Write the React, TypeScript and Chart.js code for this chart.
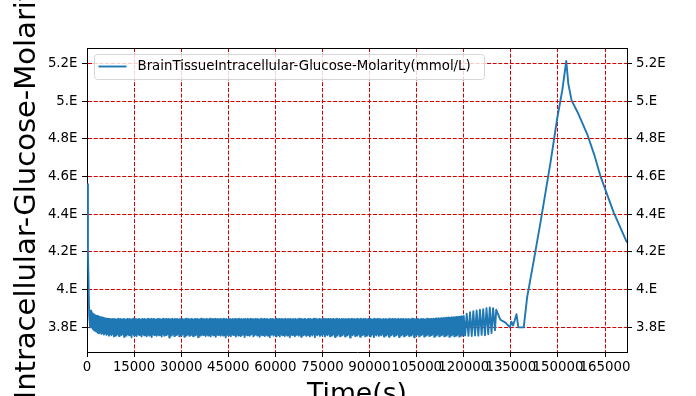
import { useEffect, useRef } from 'react';
import { Chart, registerables } from 'chart.js';

Chart.register(...registerables);

// ---------- text ----------
const seriesLabel = 'BrainTissueIntracellular-Glucose-Molarity(mmol/L)';
const xTitle = 'Time(s)';
const yTitle = 'Intracellular-Glucose-Molarity';

// ---------- axes ----------
const xMin = 0;
const xMax = 172000;
const yMin = 3.669;
const yMax = 5.283;
const xTickValues = [0, 15000, 30000, 45000, 60000, 75000, 90000, 105000, 120000, 135000, 150000, 165000];
const xTickLabels = ['0', '15000', '30000', '45000', '60000', '75000', '90000', '105000', '120000', '135000', '150000', '165000'];
const yTickValues = [3.8, 4.0, 4.2, 4.4, 4.6, 4.8, 5.0, 5.2];
const yTickLabels = ['3.8E', '4.E', '4.2E', '4.4E', '4.6E', '4.8E', '5.E', '5.2E'];

// ---------- data ----------
// initial drop
const introTimes = [0, 300, 700, 1000, 1250];
const introValues = [4.56, 4.2, 3.86, 3.8, 3.89];

// dense oscillation band, sampled every bandStepTime seconds from bandStartTime
const bandStartTime = 1600;
const bandStepTime = 200;
const bandValues = [
  3.874, 3.792, 3.870, 3.786, 3.866, 3.781, 3.863, 3.777, 3.860, 3.772, 3.858, 3.768, 3.856, 3.774, 3.854, 3.765, 3.852, 3.770, 3.850, 3.762,
  3.849, 3.768, 3.847, 3.760, 3.846, 3.766, 3.845, 3.755, 3.844, 3.764, 3.843, 3.758, 3.845, 3.766, 3.842, 3.752, 3.844, 3.762, 3.841, 3.757,
  3.843, 3.765, 3.846, 3.754, 3.842, 3.763, 3.844, 3.759, 3.841, 3.766, 3.845, 3.750, 3.843, 3.761, 3.840, 3.756, 3.844, 3.764, 3.842, 3.758,
  3.845, 3.762, 3.841, 3.747, 3.843, 3.765, 3.846, 3.757, 3.842, 3.763, 3.844, 3.754, 3.841, 3.766, 3.845, 3.759, 3.843, 3.761, 3.840, 3.752,
  3.844, 3.764, 3.842, 3.758, 3.845, 3.766, 3.841, 3.753, 3.843, 3.762, 3.846, 3.757, 3.842, 3.765, 3.844, 3.749, 3.841, 3.763, 3.845, 3.759,
  3.843, 3.766, 3.840, 3.755, 3.844, 3.761, 3.842, 3.758, 3.845, 3.764, 3.841, 3.751, 3.843, 3.766, 3.846, 3.756, 3.842, 3.762, 3.844, 3.759,
  3.841, 3.765, 3.845, 3.746, 3.843, 3.763, 3.842, 3.757, 3.846, 3.766, 3.841, 3.754, 3.844, 3.761, 3.843, 3.759, 3.845, 3.765, 3.840, 3.752,
  3.844, 3.763, 3.842, 3.758, 3.845, 3.766, 3.841, 3.750, 3.843, 3.762, 3.846, 3.757, 3.842, 3.764, 3.844, 3.755, 3.841, 3.766, 3.845, 3.760,
  3.843, 3.753, 3.840, 3.765, 3.844, 3.758, 3.842, 3.763, 3.845, 3.748, 3.841, 3.766, 3.843, 3.756, 3.846, 3.762, 3.842, 3.759, 3.844, 3.765,
  3.841, 3.754, 3.845, 3.761, 3.843, 3.757, 3.842, 3.766, 3.846, 3.752, 3.841, 3.763, 3.844, 3.758, 3.843, 3.765, 3.845, 3.750, 3.840, 3.762,
  3.844, 3.759, 3.842, 3.766, 3.845, 3.755, 3.841, 3.762, 3.843, 3.757, 3.846, 3.764, 3.842, 3.747, 3.844, 3.761, 3.841, 3.758, 3.845, 3.766,
  3.843, 3.753, 3.840, 3.763, 3.844, 3.759, 3.842, 3.765, 3.845, 3.751, 3.841, 3.762, 3.843, 3.757, 3.846, 3.766, 3.842, 3.754, 3.844, 3.760,
  3.841, 3.765, 3.845, 3.749, 3.843, 3.762, 3.842, 3.758, 3.846, 3.764, 3.841, 3.755, 3.844, 3.761, 3.843, 3.766, 3.845, 3.752, 3.840, 3.759,
  3.844, 3.763, 3.842, 3.757, 3.845, 3.765, 3.841, 3.750, 3.843, 3.761, 3.846, 3.758, 3.842, 3.766, 3.844, 3.754, 3.841, 3.762, 3.845, 3.757,
  3.843, 3.765, 3.840, 3.748, 3.844, 3.760, 3.842, 3.764, 3.845, 3.756, 3.841, 3.762, 3.843, 3.753, 3.846, 3.765, 3.842, 3.759, 3.844, 3.751,
  3.841, 3.763, 3.845, 3.758, 3.843, 3.766, 3.842, 3.754, 3.846, 3.761, 3.841, 3.757, 3.844, 3.765, 3.843, 3.747, 3.845, 3.762, 3.840, 3.759,
  3.844, 3.766, 3.842, 3.753, 3.845, 3.760, 3.841, 3.764, 3.843, 3.756, 3.846, 3.762, 3.842, 3.750, 3.844, 3.765, 3.841, 3.758, 3.845, 3.763,
  3.843, 3.755, 3.840, 3.766, 3.844, 3.759, 3.842, 3.752, 3.845, 3.763, 3.841, 3.757, 3.843, 3.765, 3.846, 3.748, 3.842, 3.761, 3.844, 3.758,
  3.841, 3.764, 3.845, 3.754, 3.843, 3.762, 3.842, 3.757, 3.846, 3.766, 3.841, 3.751, 3.844, 3.763, 3.843, 3.758, 3.845, 3.765, 3.840, 3.753,
  3.844, 3.761, 3.842, 3.757, 3.845, 3.764, 3.841, 3.749, 3.843, 3.762, 3.846, 3.756, 3.842, 3.766, 3.844, 3.753, 3.841, 3.760, 3.845, 3.758,
  3.843, 3.765, 3.840, 3.751, 3.844, 3.762, 3.842, 3.757, 3.845, 3.764, 3.841, 3.746, 3.843, 3.761, 3.846, 3.758, 3.842, 3.766, 3.844, 3.754,
  3.841, 3.762, 3.845, 3.757, 3.843, 3.765, 3.842, 3.750, 3.846, 3.761, 3.841, 3.758, 3.844, 3.764, 3.843, 3.753, 3.845, 3.762, 3.840, 3.757,
  3.844, 3.766, 3.842, 3.752, 3.845, 3.760, 3.841, 3.763, 3.843, 3.748, 3.846, 3.762, 3.842, 3.757, 3.844, 3.765, 3.841, 3.754, 3.845, 3.761,
  3.843, 3.758, 3.840, 3.765, 3.844, 3.751, 3.842, 3.762, 3.845, 3.757, 3.841, 3.764, 3.843, 3.750, 3.846, 3.761, 3.842, 3.758, 3.844, 3.766,
  3.841, 3.753, 3.845, 3.762, 3.843, 3.758, 3.842, 3.765, 3.846, 3.749, 3.841, 3.762, 3.844, 3.757, 3.843, 3.764, 3.845, 3.752, 3.840, 3.761,
  3.844, 3.758, 3.842, 3.766, 3.845, 3.754, 3.841, 3.762, 3.843, 3.757, 3.846, 3.765, 3.842, 3.747, 3.844, 3.761, 3.841, 3.758, 3.845, 3.764,
  3.843, 3.752, 3.840, 3.763, 3.844, 3.759, 3.842, 3.766, 3.845, 3.751, 3.841, 3.762, 3.843, 3.757, 3.846, 3.765, 3.842, 3.754, 3.844, 3.761,
  3.845, 3.758, 3.843, 3.766, 3.846, 3.750, 3.844, 3.762, 3.847, 3.757, 3.845, 3.765, 3.848, 3.753, 3.846, 3.761, 3.849, 3.758, 3.847, 3.764,
  3.850, 3.752, 3.848, 3.762, 3.851, 3.756, 3.849, 3.765, 3.852, 3.750, 3.850, 3.761, 3.853, 3.757, 3.851, 3.764, 3.854, 3.752, 3.852, 3.760,
  3.855, 3.756, 3.853, 3.763, 3.857, 3.751, 3.855, 3.760, 3.858, 3.755, 3.856, 3.762, 3.860,
];

// growing oscillation burst
const burstTimes = [120450, 120950, 121500, 122000, 122550, 123050, 123600, 124100, 124650, 125150, 125700, 126200, 126750, 127250, 127800, 128300, 128850, 129350, 129950, 130350];
const burstValues = [3.757, 3.872, 3.755, 3.880, 3.754, 3.886, 3.757, 3.889, 3.756, 3.893, 3.760, 3.896, 3.758, 3.901, 3.763, 3.905, 3.770, 3.902, 3.785, 3.893];

// settling wiggles before the rise
const tailTimes = [131700, 133300, 134700, 135200, 135700, 136200, 136800, 137400, 139100];
const tailValues = [3.840, 3.825, 3.800, 3.830, 3.810, 3.835, 3.870, 3.800, 3.800];

// rise, peak and decline
const peakTimes = [140200, 142200, 144450, 147640, 149780, 151380, 152660, 153300, 154350, 156260, 159450, 161690, 163600, 167750, 172000];
const peakValues = [3.960, 4.145, 4.357, 4.676, 4.910, 5.058, 5.214, 5.094, 5.005, 4.942, 4.820, 4.710, 4.600, 4.410, 4.250];

// ---------- styles ----------
const FONT = '"DejaVu Sans", "Liberation Sans", sans-serif';
const TICK_SIZE = 13.33;
const LINE_COLOR = '#1f77b4';
const GRID_COLOR = '#d40000';
const GRID_DASH = [4, 1.7];
const Y_TITLE_SHIFT = -14;

function buildPoints() {
  const pts: { x: number; y: number }[] = [];
  introTimes.forEach((t, i) => pts.push({ x: t, y: introValues[i] }));
  bandValues.forEach((v, i) => pts.push({ x: bandStartTime + i * bandStepTime, y: v }));
  burstTimes.forEach((t, i) => pts.push({ x: t, y: burstValues[i] }));
  tailTimes.forEach((t, i) => pts.push({ x: t, y: tailValues[i] }));
  peakTimes.forEach((t, i) => pts.push({ x: t, y: peakValues[i] }));
  return pts;
}

const frameLegendPlugin = {
  id: 'frameLegend',
  afterDatasetsDraw(chart: any) {
    const { ctx, chartArea: a } = chart;
    const ds = chart.data.datasets[0];
    ctx.save();
    // legend box
    ctx.font = `${TICK_SIZE}px ${FONT}`;
    const textX = a.left + 50.5;
    const midY = a.top + 18.5;
    const tw = ctx.measureText(ds.label).width;
    const bx = Math.round(a.left + 7) + 0.5;
    const by = Math.round(a.top + 6) + 0.5;
    const bw = Math.round(textX + tw + 13.5 - bx);
    const bh = 25;
    ctx.beginPath();
    if (ctx.roundRect) ctx.roundRect(bx, by, bw, bh, 3);
    else ctx.rect(bx, by, bw, bh);
    ctx.fillStyle = 'rgba(255,255,255,0.8)';
    ctx.fill();
    ctx.strokeStyle = '#d6d6d6';
    ctx.lineWidth = 1;
    ctx.stroke();
    // handle
    ctx.beginPath();
    ctx.moveTo(a.left + 11.5, midY);
    ctx.lineTo(a.left + 39.5, midY);
    ctx.strokeStyle = ds.borderColor;
    ctx.lineWidth = ds.borderWidth;
    ctx.stroke();
    // text
    ctx.fillStyle = '#000';
    ctx.textBaseline = 'middle';
    ctx.textAlign = 'left';
    ctx.fillText(ds.label, textX, midY);
    // top spine
    ctx.beginPath();
    const ty = Math.round(a.top) + 0.5;
    ctx.moveTo(a.left, ty);
    ctx.lineTo(a.right, ty);
    ctx.strokeStyle = '#000';
    ctx.lineWidth = 1;
    ctx.stroke();
    ctx.restore();
  },
};

export default function App() {
  const ref = useRef<HTMLCanvasElement>(null);

  useEffect(() => {
    if (!ref.current) return;
    const tickFont = { family: FONT, size: TICK_SIZE };
    const chart = new Chart(ref.current, {
      type: 'line',
      data: {
        datasets: [
          {
            label: seriesLabel,
            data: buildPoints(),
            borderColor: LINE_COLOR,
            backgroundColor: LINE_COLOR,
            borderWidth: 1.9,
            pointRadius: 0,
            fill: false,
            tension: 0,
            borderJoinStyle: 'round',
          },
        ],
      },
      options: {
        animation: false,
        responsive: false,
        layout: { padding: { top: 48, right: 0, bottom: 0, left: 0 } },
        plugins: {
          legend: { display: false },
          tooltip: { enabled: false },
        },
        events: [],
        scales: {
          x: {
            type: 'linear',
            position: 'bottom',
            min: xMin,
            max: xMax,
            afterBuildTicks: (s: any) => {
              s.ticks = xTickValues.map((v) => ({ value: v }));
            },
            afterFit: (s: any) => {
              s.height = 44;
            },
            ticks: {
              autoSkip: false,
              maxRotation: 0,
              minRotation: 0,
              padding: 3,
              color: '#000',
              font: tickFont,
              callback: (_v: any, i: number) => xTickLabels[i],
            },
            grid: {
              color: GRID_COLOR,
              lineWidth: 1,
              tickColor: '#000',
              tickLength: 5,
              tickWidth: 1,
            },
            border: { color: '#000', width: 1, dash: GRID_DASH },
            title: {
              display: true,
              text: xTitle,
              color: '#000',
              font: { family: FONT, size: 26.67, lineHeight: 0.05 },
              padding: { top: 0, bottom: 0 },
            },
          },
          y: {
            type: 'linear',
            position: 'left',
            min: yMin,
            max: yMax,
            afterBuildTicks: (s: any) => {
              s.ticks = yTickValues.map((v) => ({ value: v }));
            },
            afterFit: (s: any) => {
              s.width = 87;
            },
            afterUpdate: (s: any) => {
              if (s.__titleShifted) return;
              const orig = s.drawTitle;
              s.drawTitle = function () {
                this.top += Y_TITLE_SHIFT;
                this.bottom += Y_TITLE_SHIFT;
                try {
                  orig.call(this);
                } finally {
                  this.top -= Y_TITLE_SHIFT;
                  this.bottom -= Y_TITLE_SHIFT;
                }
              };
              s.__titleShifted = true;
            },
            ticks: {
              padding: 4.5,
              color: '#000',
              font: tickFont,
              callback: (_v: any, i: number) => yTickLabels[i],
            },
            grid: {
              color: GRID_COLOR,
              lineWidth: 1,
              tickColor: '#000',
              tickLength: 5,
              tickWidth: 1,
            },
            border: { color: '#000', width: 1, dash: GRID_DASH },
            title: {
              display: true,
              text: yTitle,
              color: '#000',
              font: { family: FONT, size: 29 },
              padding: { top: 10.5, bottom: 0 },
            },
          },
          y2: {
            type: 'linear',
            position: 'right',
            min: yMin,
            max: yMax,
            afterBuildTicks: (s: any) => {
              s.ticks = yTickValues.map((v) => ({ value: v }));
            },
            afterFit: (s: any) => {
              s.width = 69;
            },
            ticks: {
              padding: 4,
              color: '#000',
              font: tickFont,
              callback: (_v: any, i: number) => yTickLabels[i],
            },
            grid: {
              drawOnChartArea: false,
              color: '#000',
              tickColor: '#000',
              tickLength: 5,
              tickWidth: 1,
            },
            border: { color: '#000', width: 1 },
          },
        },
      },
      plugins: [frameLegendPlugin],
    } as any);
    return () => chart.destroy();
  }, []);

  return (
    <div style={{ position: 'fixed', left: 0, top: 0, width: 696, height: 396, background: '#fff' }}>
      <canvas ref={ref} width={696} height={396} style={{ display: 'block' }} />
    </div>
  );
}
